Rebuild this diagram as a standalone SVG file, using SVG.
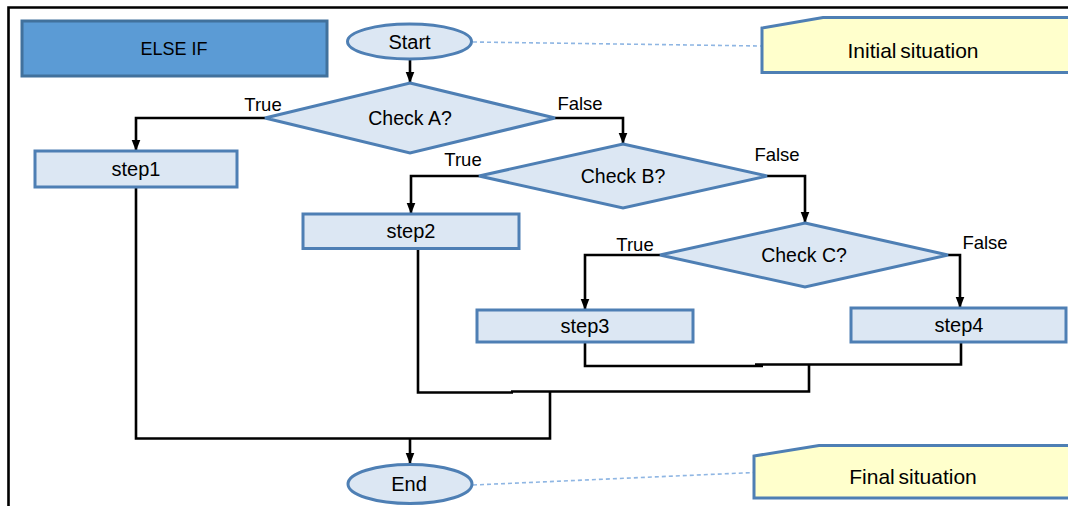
<svg xmlns="http://www.w3.org/2000/svg" width="1068" height="506" viewBox="0 0 1068 506">
  <style>
    .shape { fill: #dce7f3; stroke: #4e7fb4; stroke-width: 3; }
    .title { fill: #5b9bd5; stroke: #41719c; stroke-width: 3; }
    .note { fill: #ffffcc; stroke: #4e7fb4; stroke-width: 3; }
    .conn { fill: none; stroke: #000; stroke-width: 2.6; }
    .dash { fill: none; stroke: #8fb6e3; stroke-width: 1.6; stroke-dasharray: 4 3; }
    text { font-family: "Liberation Sans", Arial, sans-serif; fill: #000; }
    .t { font-size: 20px; text-anchor: middle; }
    .q { font-size: 19.5px; text-anchor: middle; }
    .lbl { font-size: 18.5px; text-anchor: middle; }
    .big { font-size: 21px; text-anchor: middle; word-spacing: -2px; }
    .hdr { font-size: 18px; text-anchor: middle; }
  </style>
  <defs>
    <marker id="arr" markerUnits="userSpaceOnUse" markerWidth="11" markerHeight="11" viewBox="0 0 11 11" refX="11" refY="5.5" orient="auto">
      <path d="M0,1.2 L11,5.5 L0,9.8 Z" fill="#000"/>
    </marker>
  </defs>
  <rect width="1068" height="506" fill="#fff"/>
  <path d="M8.5,510 V7.5 H1070" fill="none" stroke="#000" stroke-width="2.6"/>

  <g id="connectors">
    <path class="conn" d="M410,59 V83" marker-end="url(#arr)"/>
    <path class="conn" d="M265,118 H136 V151" marker-end="url(#arr)"/>
    <path class="conn" d="M555,118 H623 V144" marker-end="url(#arr)"/>
    <path class="conn" d="M479,176 H411 V214" marker-end="url(#arr)"/>
    <path class="conn" d="M767,176 H805 V223" marker-end="url(#arr)"/>
    <path class="conn" d="M660,255 H585 V310" marker-end="url(#arr)"/>
    <path class="conn" d="M948,255 H960 V308" marker-end="url(#arr)"/>
    <path class="conn" d="M585,342 V366 H763"/>
    <path class="conn" d="M961,342 V364.5 H755"/>
    <path class="conn" d="M809,364.5 V391.5 H511"/>
    <path class="conn" d="M418,248.5 V392.5 H513"/>
    <path class="conn" d="M136,187 V438.5 H550 V391.5"/>
    <path class="conn" d="M410,438.5 V464" marker-end="url(#arr)"/>
    <path class="dash" d="M473,42 L762,46"/>
    <path class="dash" d="M473,485 L754,472.5"/>
    <text class="lbl" x="263" y="111">True</text>
    <text class="lbl" x="580" y="110">False</text>
    <text class="lbl" x="463" y="166">True</text>
    <text class="lbl" x="777" y="161">False</text>
    <text class="lbl" x="635" y="251">True</text>
    <text class="lbl" x="985" y="249">False</text>
  </g>

  <g id="else-if">
    <rect class="title" x="22" y="21" width="305" height="55"/>
    <text class="hdr" x="174" y="55">ELSE IF</text>
  </g>
  <g id="start">
    <ellipse class="shape" cx="409.5" cy="41.5" rx="62" ry="17.5"/>
    <text class="t" x="409.5" y="49">Start</text>
  </g>
  <g id="initial-situation">
    <polygon class="note" points="762,28 823,17.5 1075,17.5 1075,72.5 762,72.5"/>
    <text class="big" x="913" y="58">Initial situation</text>
  </g>
  <g id="check-a">
    <polygon class="shape" points="410,83 555,118 410,153 265,118"/>
    <text class="q" x="410" y="125">Check A?</text>
  </g>
  <g id="step1">
    <rect class="shape" x="35" y="151" width="202" height="36"/>
    <text class="t" x="136" y="176">step1</text>
  </g>
  <g id="check-b">
    <polygon class="shape" points="623,144 767,176 623,208 479,176"/>
    <text class="q" x="623" y="183">Check B?</text>
  </g>
  <g id="step2">
    <rect class="shape" x="303" y="214" width="216" height="34.5"/>
    <text class="t" x="411" y="238">step2</text>
  </g>
  <g id="check-c">
    <polygon class="shape" points="805,223 948,255 805,287 660,255"/>
    <text class="q" x="804" y="262">Check C?</text>
  </g>
  <g id="step3">
    <rect class="shape" x="477" y="310" width="216" height="32"/>
    <text class="t" x="585" y="333">step3</text>
  </g>
  <g id="step4">
    <rect class="shape" x="851" y="308" width="215" height="34"/>
    <text class="t" x="959" y="332">step4</text>
  </g>
  <g id="end">
    <ellipse class="shape" cx="410" cy="484" rx="62" ry="19.5"/>
    <text class="t" x="409" y="491">End</text>
  </g>
  <g id="final-situation">
    <polygon class="note" points="754,456 819,445.5 1075,445.5 1075,498 754,498"/>
    <text class="big" x="913" y="484">Final situation</text>
  </g>
</svg>
